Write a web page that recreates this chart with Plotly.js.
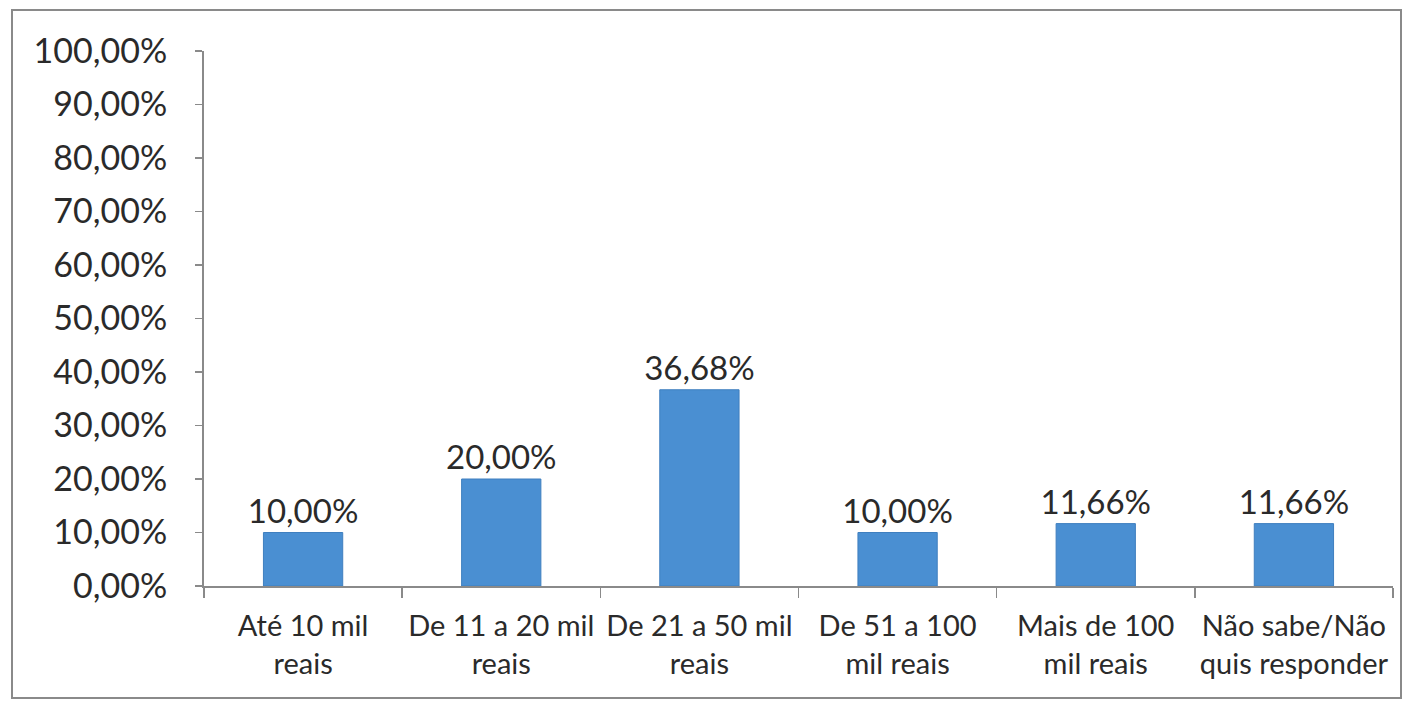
<!DOCTYPE html>
<html>
<head>
<meta charset="utf-8">
<script src="https://cdn.plot.ly/plotly-3.0.1.min.js"></script>
<style>
  html, body { margin: 0; padding: 0; background: #fff; }
  #frame { position: absolute; left: 11px; top: 9px; width: 1387px; height: 686px; border: 2px solid #8a8a8a; }
  #chart { position: absolute; left: 0; top: 0; width: 1409px; height: 707px; }
</style>
</head>
<body>
<div id="frame"></div>
<div id="chart"></div>
<script>
const categories = [
  "Até 10 mil<br>reais",
  "De 11 a 20 mil<br>reais",
  "De 21 a 50 mil<br>reais",
  "De 51 a 100<br>mil reais",
  "Mais de 100<br>mil reais",
  "Não sabe/Não<br>quis responder"
];
const values = [10.00, 20.00, 36.68, 10.00, 11.66, 11.66];
const yTicks = [0, 10, 20, 30, 40, 50, 60, 70, 80, 90, 100];
const yTickLabels = ["0,00%", "10,00%", "20,00%", "30,00%", "40,00%", "50,00%",
                     "60,00%", "70,00%", "80,00%", "90,00%", "100,00%"];

const textColor = "#2a2a2a";
const fontFamily = "Lato, 'Open Sans', sans-serif";

const trace = {
  type: "bar",
  x: categories,
  y: values,
  marker: { color: "#4a8fd2", line: { color: "#3f7fbf", width: 1 } },
  texttemplate: "%{y:.2f}%",
  textposition: "outside",
  constraintext: "none",
  cliponaxis: false,
  textfont: { family: fontFamily, size: 33, color: textColor },
  hoverinfo: "skip"
};

const layout = {
  width: 1409,
  height: 707,
  margin: { l: 204, r: 16, t: 51, b: 121 },
  paper_bgcolor: "rgba(0,0,0,0)",
  plot_bgcolor: "rgba(0,0,0,0)",
  separators: ",.",
  bargap: 0.6,
  showlegend: false,
  font: { family: fontFamily, color: textColor },
  xaxis: {
    type: "category",
    showline: true,
    linecolor: "#8a8a8a",
    linewidth: 2,
    ticks: "outside",
    tickson: "boundaries",
    ticklen: 10,
    tickcolor: "#8a8a8a",
    tickwidth: 1.5,
    showgrid: false,
    zeroline: false,
    tickfont: { family: fontFamily, size: 29, color: textColor },
    ticklabelstandoff: 13
  },
  yaxis: {
    range: [0, 100],
    tickmode: "array",
    tickvals: yTicks,
    ticktext: yTickLabels,
    showline: true,
    linecolor: "#8a8a8a",
    linewidth: 2,
    ticks: "outside",
    ticklen: 7,
    tickcolor: "#8a8a8a",
    tickwidth: 1.5,
    showgrid: false,
    zeroline: false,
    tickfont: { family: fontFamily, size: 34, color: textColor },
    ticklabelstandoff: 21
  }
};

Plotly.newPlot("chart", [trace], layout, { staticPlot: true, displayModeBar: false });
</script>
</body>
</html>
